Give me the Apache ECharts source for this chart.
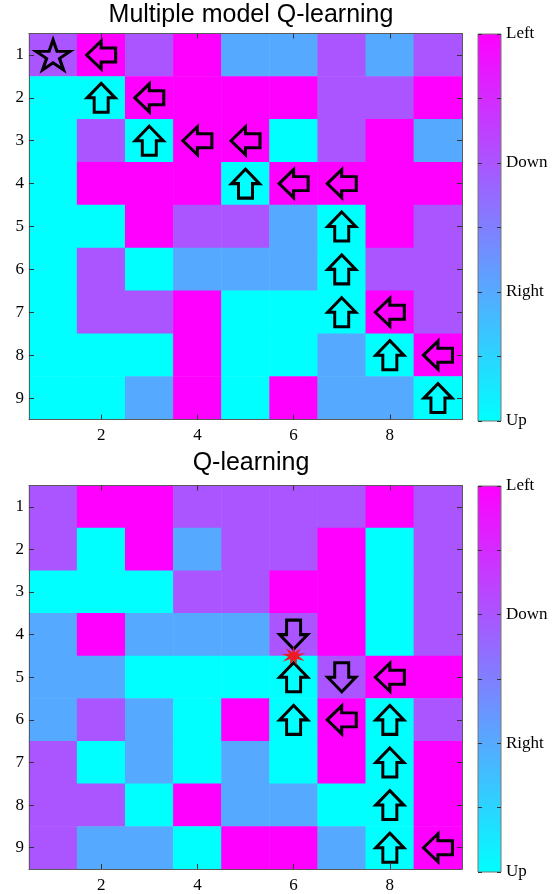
<!DOCTYPE html>
<html>
<head>
<meta charset="utf-8">
<script src="https://cdn.jsdelivr.net/npm/echarts@6/dist/echarts.min.js"></script>
<style>html,body{margin:0;padding:0;background:#fff}#c{width:557px;height:894px}</style>
</head>
<body>
<div id="c"></div>
<script>
// ---- data ----
var cols = ['1','2','3','4','5','6','7','8','9'];
var rows = ['1','2','3','4','5','6','7','8','9'];
var actionNames = ['Up','Right','Down','Left'];          // colour values 1..4
var actionValue = {U:1, R:2, D:3, L:4};
var titles = ['Multiple model Q-learning', 'Q-learning'];

// greedy action per cell, row by row (U/R/D/L)
var mmqPolicy = ['DLDLRRDRD','UULLLLDDL','UDULLUDLR','ULLLULLLL','UULDDRULD','UDURRRUDD','UDDLUUULD','UUULUURUL','UURLULRRU'];
var qPolicy   = ['DLLDDDDLD','DULRDDLUD','UUUDDLLUD','RLRRRDLUD','RRUUUUDLL','RDRULULUD','DURURULUL','DDULRRUUL','DRRULLRUL'];
// path arrows [col,row,direction]
var mmqArrows = [[2,1,'L'],[2,2,'U'],[3,2,'L'],[3,3,'U'],[4,3,'L'],[5,3,'L'],[5,4,'U'],[6,4,'L'],[7,4,'L'],
                 [7,5,'U'],[7,6,'U'],[7,7,'U'],[8,7,'L'],[8,8,'U'],[9,8,'L'],[9,9,'U']];
var mmqGoal = [[1,1]];
var qArrows = [[6,4,'D'],[6,5,'U'],[6,6,'U'],[7,5,'D'],[7,6,'L'],[8,5,'L'],[8,6,'U'],[8,7,'U'],[8,8,'U'],[8,9,'U'],[9,9,'L']];
var qStuck = [[6,4.5]];

// ---- build ----
function toCells(policy){
  var out = [];
  policy.forEach(function(r, ri){ r.split('').forEach(function(ch, ci){ out.push([ci, ri, actionValue[ch]]); }); });
  return out;
}
var rotOf = {U:0, L:90, D:180, R:-90};
function toArrows(list){ return list.map(function(a){ return {value:[a[0], a[1]], symbolRotate: rotOf[a[2]]}; }); }
var ARROW = 'path://M50,0 L100,50 L75,50 L75,100 L25,100 L25,50 L0,50 Z';
var STAR5 = 'path://M50,0 L61.2,34.6 L97.6,34.5 L68.1,55.9 L79.4,90.5 L50,69 L20.6,90.5 L31.9,55.9 L2.4,34.5 L38.8,34.6 Z';
var BURST = 'path://M50,0 L56,32 L80,8 L68,38 L100,36 L72,52 L96,76 L64,66 L62,100 L50,72 L34,96 L36,66 L4,80 L28,54 L0,40 L32,38 L18,10 L44,30 Z';

var serif = "'Liberation Serif', 'Times New Roman', serif";
var sans = "'Liberation Sans', Arial, sans-serif";
var lineCol = '#5a5a5a';
var tickCol = '#333';
var plotTops = [33.5, 485.5];
var plotHeights = [386, 385];
var grids = [], xAxes = [], yAxes = [], series = [], titleArr = [];
var odd = function(i){ return i % 2 === 1; };

[0,1].forEach(function(k){
  grids.push({left:29, top:plotTops[k], width:433, height:plotHeights[k]});
  var g = k, xb = xAxes.length;
  xAxes.push({type:'category', gridIndex:g, data:cols, position:'bottom', z:10,
    axisLine:{show:true, lineStyle:{color:lineCol}},
    axisTick:{show:true, inside:true, length:5, alignWithLabel:true, interval:odd, lineStyle:{color:tickCol}},
    axisLabel:{interval:odd, fontFamily:serif, fontSize:17, color:'#000', margin:8}, splitLine:{show:false}});
  xAxes.push({type:'category', gridIndex:g, data:cols, position:'top', z:10,
    axisLine:{show:true, lineStyle:{color:lineCol}},
    axisTick:{show:true, inside:true, length:5, alignWithLabel:true, interval:odd, lineStyle:{color:tickCol}},
    axisLabel:{show:false}, splitLine:{show:false}});
  xAxes.push({type:'value', gridIndex:g, min:0.5, max:9.5, show:false});
  var yb = yAxes.length;
  yAxes.push({type:'category', gridIndex:g, data:rows, position:'left', inverse:true, z:10,
    axisLine:{show:true, lineStyle:{color:lineCol}},
    axisTick:{show:true, inside:true, length:5, alignWithLabel:true, lineStyle:{color:tickCol}},
    axisLabel:{fontFamily:serif, fontSize:17, color:'#000', margin:5}, splitLine:{show:false}});
  yAxes.push({type:'category', gridIndex:g, data:rows, position:'right', inverse:true, z:10,
    axisLine:{show:true, lineStyle:{color:lineCol}},
    axisTick:{show:true, inside:true, length:5, alignWithLabel:true, lineStyle:{color:tickCol}},
    axisLabel:{show:false}, splitLine:{show:false}});
  yAxes.push({type:'value', gridIndex:g, min:0.5, max:9.5, inverse:true, show:false});
  series.push({type:'heatmap', xAxisIndex:xb, yAxisIndex:yb, data:toCells(k===0?mmqPolicy:qPolicy),
    itemStyle:{borderWidth:0}, emphasis:{disabled:true}, z:2});
  series.push({type:'scatter', xAxisIndex:xb+2, yAxisIndex:yb+2, data:toArrows(k===0?mmqArrows:qArrows),
    symbol:ARROW, symbolSize:[28,29], z:5, silent:true,
    itemStyle:{color:'rgba(0,0,0,0)', borderColor:'#000', borderWidth:3, opacity:1}});
  if (k===0) {
    series.push({type:'scatter', xAxisIndex:xb+2, yAxisIndex:yb+2, data:mmqGoal, symbol:STAR5, symbolSize:[34,30], z:5, silent:true,
      itemStyle:{color:'rgba(0,0,0,0)', borderColor:'#000', borderWidth:3, opacity:1}});
  } else {
    series.push({type:'scatter', xAxisIndex:xb+2, yAxisIndex:yb+2, data:qStuck, symbol:BURST, symbolSize:[24,19], z:6, silent:true,
      itemStyle:{color:'#ec1c24', borderWidth:0, opacity:1}});
  }
  titleArr.push({text:titles[k], left:251, top:(k===0?3:451), textAlign:'center', padding:0,
    textStyle:{fontFamily:sans, fontSize:25, fontWeight:'normal', color:'#000'}});
});

// colour bars
var grad = {type:'linear', x:0, y:0, x2:0, y2:1, colorStops:[{offset:0, color:'#FF00FF'},{offset:1, color:'#00FFFF'}]};
[0,1].forEach(function(k){
  var g = grids.length;
  grids.push({left:478, top:plotTops[k]+0.5, width:23, height:plotHeights[k]+1, show:true,
    backgroundColor:grad, borderColor:'#777', borderWidth:1});
  xAxes.push({type:'category', gridIndex:g, data:['c'], show:false});
  yAxes.push({type:'value', gridIndex:g, min:1, max:4, interval:0.5, position:'right', z:10,
    axisLine:{show:false, onZero:false}, splitLine:{show:false},
    axisTick:{show:true, inside:true, length:4, lineStyle:{color:tickCol}},
    axisLabel:{fontFamily:serif, fontSize:17, color:'#000', margin:5,
      formatter:function(v){ return (v % 1 === 0) ? actionNames[v-1] : ''; }}});
  yAxes.push({type:'value', gridIndex:g, min:1, max:4, interval:0.5, position:'left', z:10,
    axisLine:{show:false, onZero:false}, splitLine:{show:false},
    axisTick:{show:true, inside:true, length:4, lineStyle:{color:tickCol}},
    axisLabel:{show:false}});
});

var chart = echarts.init(document.getElementById('c'), null, {renderer:'canvas'});
chart.setOption({
  animation:false, backgroundColor:'#fff', title:titleArr, grid:grids, xAxis:xAxes, yAxis:yAxes,
  visualMap:{type:'continuous', show:false, min:1, max:4, seriesIndex:[0,3], inRange:{color:['#00FFFF','#FF00FF']}},
  series:series
});
</script>
</body>
</html>
